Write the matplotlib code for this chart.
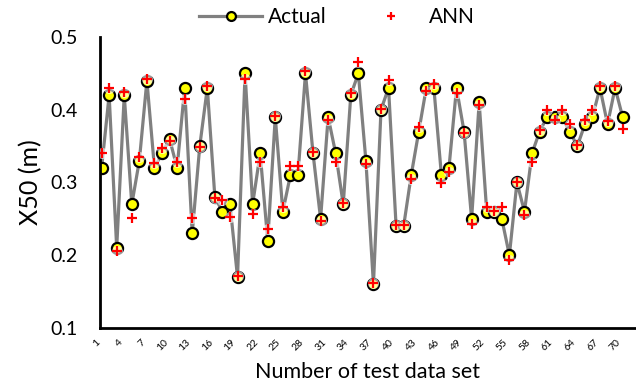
import numpy as np
import matplotlib.pyplot as plt
from matplotlib.ticker import FormatStrFormatter

plt.rcParams['font.family'] = ['Lato', 'DejaVu Sans']

# test data set number
sets = np.arange(1, 71)

actual = [0.32, 0.42, 0.21, 0.42, 0.27, 0.33, 0.44, 0.32, 0.34, 0.36,
          0.32, 0.43, 0.23, 0.35, 0.43, 0.28, 0.26, 0.27, 0.17, 0.45,
          0.27, 0.34, 0.22, 0.39, 0.26, 0.31, 0.31, 0.45, 0.34, 0.25,
          0.39, 0.34, 0.27, 0.42, 0.45, 0.33, 0.16, 0.40, 0.43, 0.24,
          0.24, 0.31, 0.37, 0.43, 0.43, 0.31, 0.32, 0.43, 0.37, 0.25,
          0.41, 0.26, 0.26, 0.25, 0.20, 0.30, 0.26, 0.34, 0.37, 0.39,
          0.39, 0.39, 0.37, 0.35, 0.38, 0.39, 0.43, 0.38, 0.43, 0.39]

ann = [0.340, 0.430, 0.206, 0.424, 0.251, 0.335, 0.442, 0.327, 0.348, 0.357,
       0.328, 0.415, 0.251, 0.349, 0.432, 0.279, 0.276, 0.252, 0.171, 0.442,
       0.257, 0.328, 0.236, 0.391, 0.267, 0.323, 0.322, 0.453, 0.342, 0.247,
       0.386, 0.328, 0.272, 0.423, 0.465, 0.325, 0.162, 0.401, 0.441, 0.241,
       0.241, 0.305, 0.376, 0.426, 0.435, 0.299, 0.315, 0.423, 0.368, 0.243,
       0.406, 0.267, 0.261, 0.267, 0.194, 0.301, 0.256, 0.328, 0.372, 0.400,
       0.386, 0.400, 0.380, 0.351, 0.386, 0.399, 0.433, 0.385, 0.433, 0.374]

fig = plt.figure(figsize=(6.36, 3.85), dpi=100)
ax = fig.add_axes([0.157, 0.148, 0.841, 0.756])

ax.plot(sets, actual, color='#808080', lw=2.3, marker='o', ms=8,
        mfc='#ffff00', mec='black', mew=1.6, label='Actual', zorder=2)
# soft white glow behind the ANN crosses
ax.plot(sets, ann, ls='none', marker='o', ms=8, mfc='white',
        mec='none', alpha=0.6, zorder=3)
ax.plot(sets, ann, ls='none', marker='+', ms=7, mew=1.6,
        color='red', label='ANN', zorder=4)

ax.set_xlim(0.77, 71.6)
ax.set_ylim(0.1, 0.5)
ax.set_yticks([0.1, 0.2, 0.3, 0.4, 0.5])
ax.yaxis.set_major_formatter(FormatStrFormatter('%.1f'))
ax.set_xticks(sets[::3])
ax.set_xticklabels([str(s) for s in sets[::3]], rotation=45, ha='right',
                   fontsize=7.5)
ax.tick_params(axis='y', labelsize=14, length=0, pad=16)
ax.tick_params(axis='x', length=0, pad=7)

for s in ['top', 'right']:
    ax.spines[s].set_visible(False)
ax.spines['left'].set_linewidth(2)
ax.spines['bottom'].set_linewidth(2)

ax.set_xlabel('Number of test data set', fontsize=15.5, labelpad=7)
ax.set_ylabel('X50 (m)', fontsize=18, labelpad=6)

fig.legend(loc='center', bbox_to_anchor=(0.53, 0.956), ncol=2, frameon=False,
           fontsize=15, handlelength=3, handletextpad=0.3, columnspacing=1.6,
           markerscale=0.8)

fig.savefig('out.png', dpi=100)
